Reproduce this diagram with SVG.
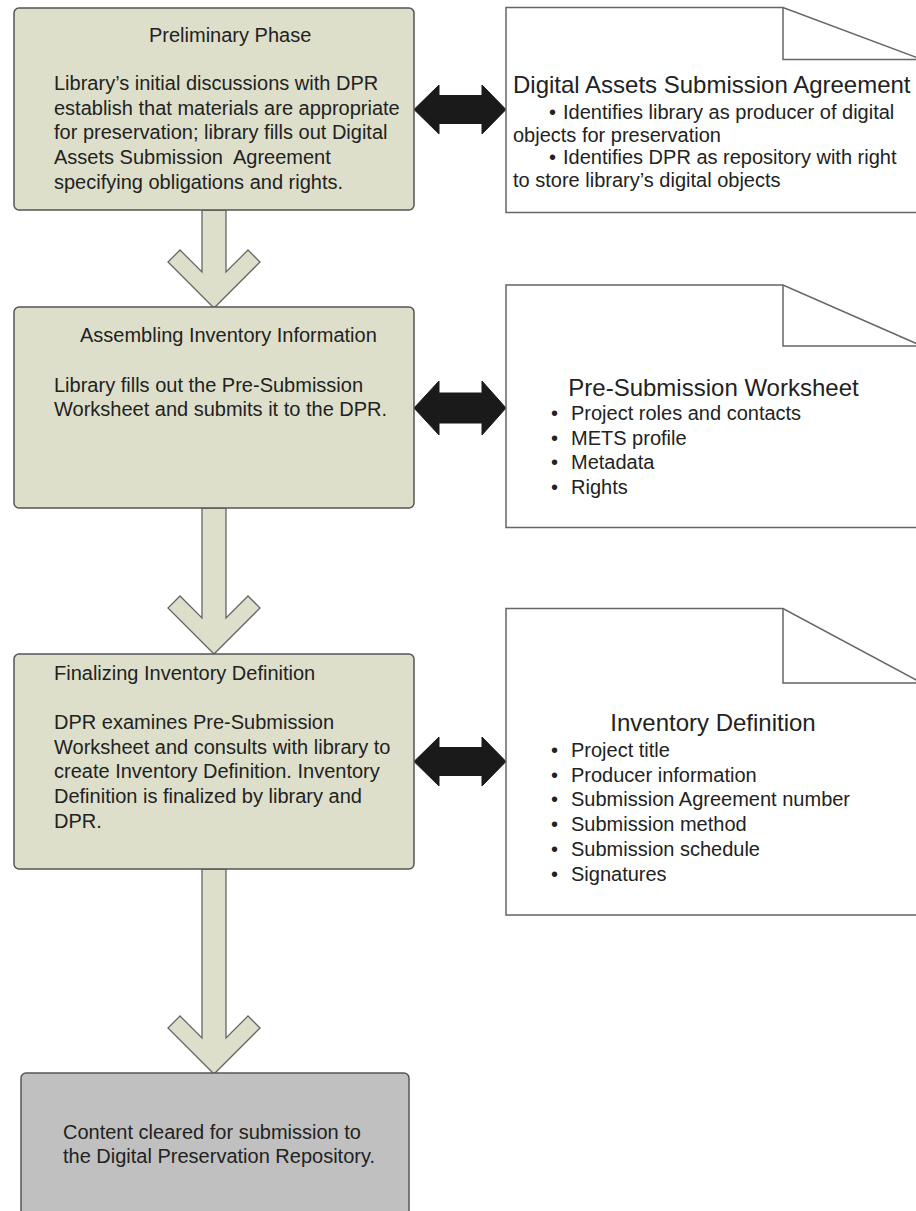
<svg xmlns="http://www.w3.org/2000/svg" width="916" height="1211" viewBox="0 0 916 1211">
<style>
text{font-family:"Liberation Sans",Arial,sans-serif;fill:#222;font-size:20px}
.box{fill:#dddfcb;stroke:#555;stroke-width:1.5}
.end{fill:#c0c0c0;stroke:#555;stroke-width:1.5}
.doc{fill:#fff;stroke:#666;stroke-width:1.5}
.fold{fill:none;stroke:#666;stroke-width:1.5}
.down{fill:#dddfcb;stroke:#666;stroke-width:1.3}
.dbl{fill:#1a1a1a;stroke:#1a1a1a;stroke-width:1}
.dt{font-size:24px}
.mid{text-anchor:middle}
</style>
<rect width="916" height="1211" fill="#fff"/>
<g id="connectors">
<polygon class="down" points="202,210 202,272 180,250 168,262 214,308 260,262 248,250 226,272 226,210"/>
<polygon class="down" points="202,508 202,618 180,596 168,608 214,654 260,608 248,596 226,618 226,508"/>
<polygon class="down" points="202,869 202,1038 180,1016 168,1028 214,1074 260,1028 248,1016 226,1038 226,869"/>
<polygon class="dbl" points="414,109.5 439,85 439,95.5 482,95.5 482,85 506,109.5 482,134 482,123.5 439,123.5 439,134"/>
<polygon class="dbl" points="414,408 439,381 439,393 482,393 482,381 506,408 482,435 482,423 439,423 439,435"/>
<polygon class="dbl" points="414,761.5 439,737 439,747.5 482,747.5 482,737 506,761.5 482,786 482,775.5 439,775.5 439,786"/>
</g>
<g id="box1">
<rect class="box" x="14" y="8" width="400" height="202" rx="5"/>
<text x="149" y="42">Preliminary Phase</text>
<text x="54" y="90">Library’s initial discussions with DPR</text>
<text x="54" y="114.7">establish that materials are appropriate</text>
<text x="54" y="139.3">for preservation; library fills out Digital</text>
<text x="54" y="164" xml:space="preserve">Assets Submission  Agreement</text>
<text x="54" y="188.7">specifying obligations and rights.</text>
</g>
<g id="box2">
<rect class="box" x="14" y="307" width="400" height="201" rx="5"/>
<text x="80" y="342">Assembling Inventory Information</text>
<text x="54" y="391.5">Library fills out the Pre-Submission</text>
<text x="54" y="416.2">Worksheet and submits it to the DPR.</text>
</g>
<g id="box3">
<rect class="box" x="14" y="654" width="400" height="215" rx="5"/>
<text x="54" y="680">Finalizing Inventory Definition</text>
<text x="54" y="729">DPR examines Pre-Submission</text>
<text x="54" y="753.7">Worksheet and consults with library to</text>
<text x="54" y="778.3">create Inventory Definition. Inventory</text>
<text x="54" y="803">Definition is finalized by library and</text>
<text x="54" y="827.7">DPR.</text>
</g>
<g id="box4">
<rect class="end" x="21" y="1073" width="388" height="160" rx="5"/>
<text x="63" y="1139">Content cleared for submission to</text>
<text x="63" y="1163">the Digital Preservation Repository.</text>
</g>
<g id="doc1">
<path class="doc" d="M506,7.5 H783 L922,59.5 V212.5 H506 Z"/>
<path class="fold" d="M783,7.5 V59.5 H922"/>
<text class="dt" x="513" y="93">Digital Assets Submission Agreement</text>
<text x="549" y="119">•</text><text x="563" y="119">Identifies library as producer of digital</text>
<text x="513" y="141.7">objects for preservation</text>
<text x="549" y="164.3">•</text><text x="563" y="164.3">Identifies DPR as repository with right</text>
<text x="513" y="186.7">to store library’s digital objects</text>
</g>
<g id="doc2">
<path class="doc" d="M506,285 H783 L922,346 V527.5 H506 Z"/>
<path class="fold" d="M783,285 V346 H922"/>
<text class="dt mid" x="713.5" y="396">Pre-Submission Worksheet</text>
<text x="551" y="420">•</text><text x="571" y="420">Project roles and contacts</text>
<text x="551" y="444.7">•</text><text x="571" y="444.7">METS profile</text>
<text x="551" y="469.3">•</text><text x="571" y="469.3">Metadata</text>
<text x="551" y="494">•</text><text x="571" y="494">Rights</text>
</g>
<g id="doc3">
<path class="doc" d="M506,608.5 H783 L922,683 V915 H506 Z"/>
<path class="fold" d="M783,608.5 V683 H922"/>
<text class="dt mid" x="713" y="731">Inventory Definition</text>
<text x="551" y="756.7">•</text><text x="571" y="756.7">Project title</text>
<text x="551" y="781.5">•</text><text x="571" y="781.5">Producer information</text>
<text x="551" y="806.3">•</text><text x="571" y="806.3">Submission Agreement number</text>
<text x="551" y="831">•</text><text x="571" y="831">Submission method</text>
<text x="551" y="855.8">•</text><text x="571" y="855.8">Submission schedule</text>
<text x="551" y="880.6">•</text><text x="571" y="880.6">Signatures</text>
</g>
</svg>
